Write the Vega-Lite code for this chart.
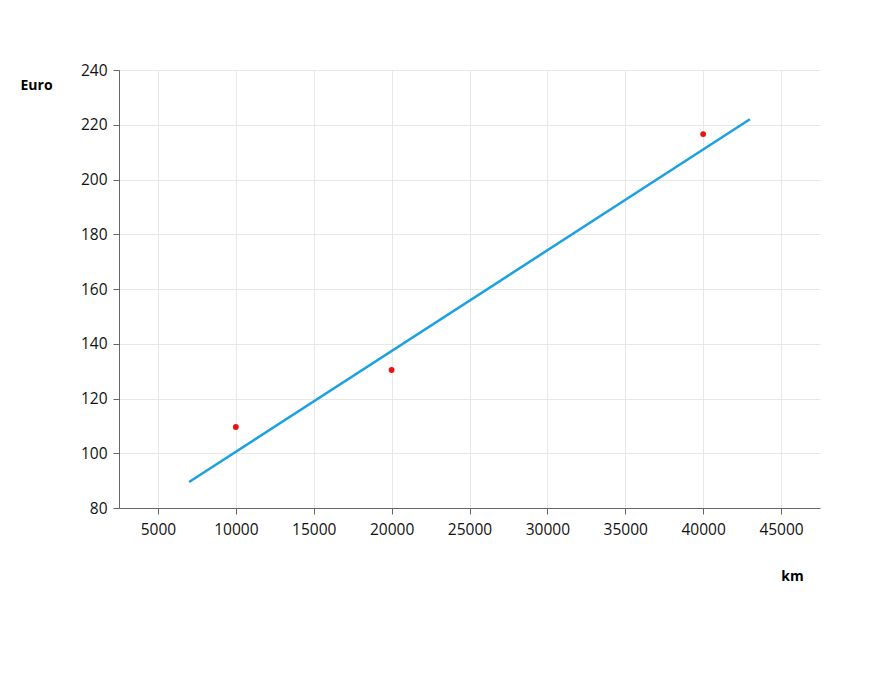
{
  "$schema": "https://vega.github.io/schema/vega-lite/v6.json",
  "width": 701,
  "height": 438,
  "autosize": {"type": "none"},
  "padding": {"left": 119, "top": 70, "right": 60, "bottom": 173},
  "background": "white",
  "config": {
    "view": {"stroke": null},
    "font": "Open Sans"
  },
  "layer": [
    {
      "data": {"values": [{"km": 7000, "euro": 89.5}, {"km": 43000, "euro": 222}]},
      "mark": {"type": "line", "color": "#1ba1e2", "strokeWidth": 2.5},
      "encoding": {
        "x": {"field": "km", "type": "quantitative", "scale": {"domain": [2500, 47500], "nice": false, "zero": false},
          "axis": {"title": "km", "values": [5000, 10000, 15000, 20000, 25000, 30000, 35000, 40000, 45000], "format": "d",
            "labelFontSize": 15.5, "labelColor": "#111", "labelPadding": 8, "tickSize": 6, "tickColor": "#666", "domainColor": "#666",
            "gridColor": "#e8e8e8", "titleFontSize": 14, "titleFontWeight": "bold", "titleColor": "#000",
            "titleX": 673, "titleY": 68, "titleBaseline": "middle", "titleAlign": "center"}},
        "y": {"field": "euro", "type": "quantitative", "scale": {"domain": [80, 240], "nice": false, "zero": false},
          "axis": {"title": "Euro", "values": [80, 100, 120, 140, 160, 180, 200, 220, 240],
            "labelFontSize": 15.5, "labelColor": "#111", "labelPadding": 6, "tickSize": 6, "tickColor": "#666", "domainColor": "#666",
            "gridColor": "#e8e8e8", "titleFontSize": 14, "titleFontWeight": "bold", "titleColor": "#000", "titleAngle": 0,
            "titleX": -99, "titleY": 15, "titleAlign": "left", "titleBaseline": "middle"}}
      }
    },
    {
      "data": {"values": [{"km": 10000, "euro": 109.6}, {"km": 20000, "euro": 130.4}, {"km": 40000, "euro": 216.6}]},
      "mark": {"type": "circle", "color": "#ee1111", "size": 34, "opacity": 1},
      "encoding": {
        "x": {"field": "km", "type": "quantitative"},
        "y": {"field": "euro", "type": "quantitative"}
      }
    }
  ]
}
